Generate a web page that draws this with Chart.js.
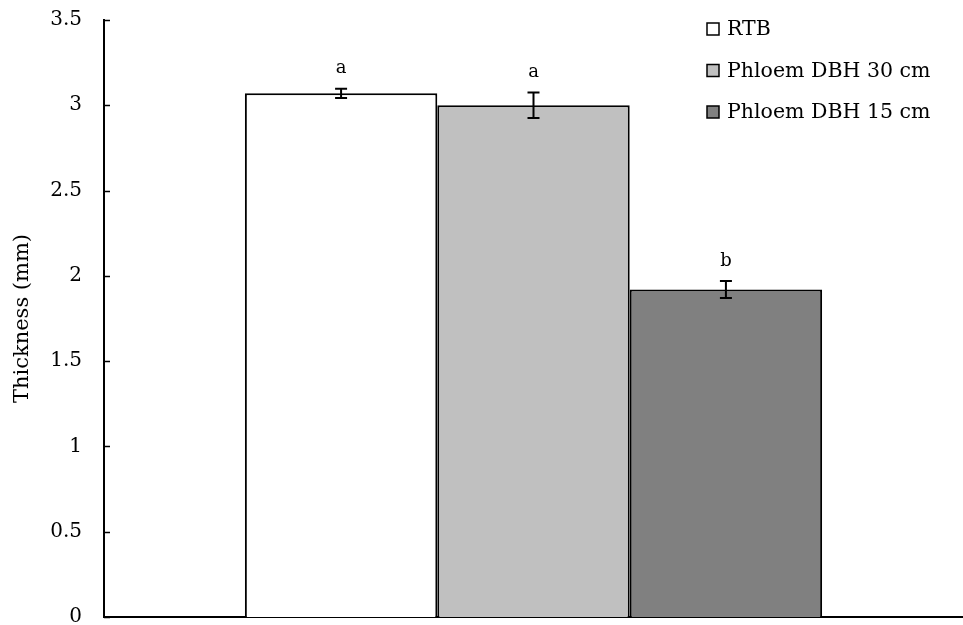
<!DOCTYPE html>
<html lang="en">
<head>
    <meta charset="UTF-8">
    <title>Thickness</title>
    <script src="https://cdn.jsdelivr.net/npm/chart.js"></script>
    <style>
        html, body { margin: 0; padding: 0; background: #fff; }
        #wrap { width: 963px; height: 625px; }
    </style>
</head>
<body>
    <div id="wrap"><canvas id="thicknessChart"></canvas></div>

    <script>
        // values
        const categories = [''];
        const seriesNames = ['RTB', 'Phloem DBH 30 cm', 'Phloem DBH 15 cm'];
        const thickness = [3.07, 3.0, 1.92];
        const errors = [0.027, 0.075, 0.05];
        const letters = ['a', 'a', 'b'];
        const yTicks = [0, 0.5, 1, 1.5, 2, 2.5, 3, 3.5];
        const fills = ['#ffffff', '#c0c0c0', '#808080'];

        const serif = "'DejaVu Serif', 'Liberation Serif', serif";

        // error bars, letters, inward ticks and the box legend
        const extras = {
            id: 'extras',
            afterDatasetsDraw(chart) {
                const ctx = chart.ctx;
                const y = chart.scales.y;
                ctx.save();
                ctx.strokeStyle = '#000';
                ctx.fillStyle = '#000';
                ctx.lineWidth = 2;

                chart.data.datasets.forEach((ds, i) => {
                    const bar = chart.getDatasetMeta(i).data[0];
                    const v = ds.data[0];
                    const top = y.getPixelForValue(v + errors[i]);
                    const bot = y.getPixelForValue(v - errors[i]);
                    ctx.beginPath();
                    ctx.moveTo(bar.x, top); ctx.lineTo(bar.x, bot);
                    ctx.moveTo(bar.x - 6, top); ctx.lineTo(bar.x + 6, top);
                    ctx.moveTo(bar.x - 6, bot); ctx.lineTo(bar.x + 6, bot);
                    ctx.stroke();

                    ctx.font = '18px ' + serif;
                    ctx.textAlign = 'center';
                    ctx.textBaseline = 'bottom';
                    ctx.fillText(letters[i], bar.x, top - 11);
                });

                // ticks point into the plot
                ctx.lineWidth = 1.5;
                yTicks.forEach(t => {
                    const py = Math.round(y.getPixelForValue(t)) + 0.5;
                    ctx.beginPath();
                    ctx.moveTo(y.right, py);
                    ctx.lineTo(y.right + 6, py);
                    ctx.stroke();
                });

                // legend
                ctx.font = '20.5px ' + serif;
                ctx.textAlign = 'left';
                ctx.textBaseline = 'middle';
                seriesNames.forEach((name, i) => {
                    const lx = 707, ly = 29 + i * 41.5;
                    ctx.fillStyle = fills[i];
                    ctx.fillRect(lx, ly - 6, 12, 12);
                    ctx.lineWidth = 1.5;
                    ctx.strokeRect(lx, ly - 6, 12, 12);
                    ctx.fillStyle = '#000';
                    ctx.fillText(name, lx + 20, ly + 1);
                });
                ctx.restore();
            }
        };

        new Chart(document.getElementById('thicknessChart'), {
            type: 'bar',
            data: {
                labels: categories,
                datasets: seriesNames.map((name, i) => ({
                    label: name,
                    data: [thickness[i]],
                    backgroundColor: fills[i],
                    borderColor: '#000',
                    borderWidth: 2,
                    barPercentage: 1,
                    categoryPercentage: 0.672
                }))
            },
            options: {
                responsive: true,
                maintainAspectRatio: false,
                animation: false,
                layout: { padding: { top: 20, right: 0, bottom: 8, left: 0 } },
                plugins: {
                    legend: { display: false },
                    tooltip: { enabled: false }
                },
                scales: {
                    x: {
                        afterFit: axis => {
                            axis.height = 0;
                            axis.paddingLeft = axis.paddingRight = 0;
                        },
                        grid: { display: false, drawTicks: false },
                        border: { color: '#000', width: 2 },
                        ticks: { display: false }
                    },
                    y: {
                        min: 0,
                        max: 3.5,
                        afterBuildTicks: axis => { axis.ticks = yTicks.map(v => ({ value: v })); },
                        afterFit: axis => {
                            axis.width = 104;
                            axis.paddingTop = axis.paddingBottom = 0;
                        },
                        grid: { display: false, drawTicks: false },
                        border: { color: '#000', width: 2 },
                        ticks: {
                            color: '#000',
                            padding: 22,
                            font: { family: serif, size: 20 },
                            callback: v => String(v)
                        },
                        title: {
                            display: true,
                            text: 'Thickness (mm)',
                            color: '#000',
                            padding: { top: 10, bottom: 0 },
                            font: { family: serif, size: 21 }
                        }
                    }
                }
            },
            plugins: [extras]
        });
    </script>
</body>
</html>
